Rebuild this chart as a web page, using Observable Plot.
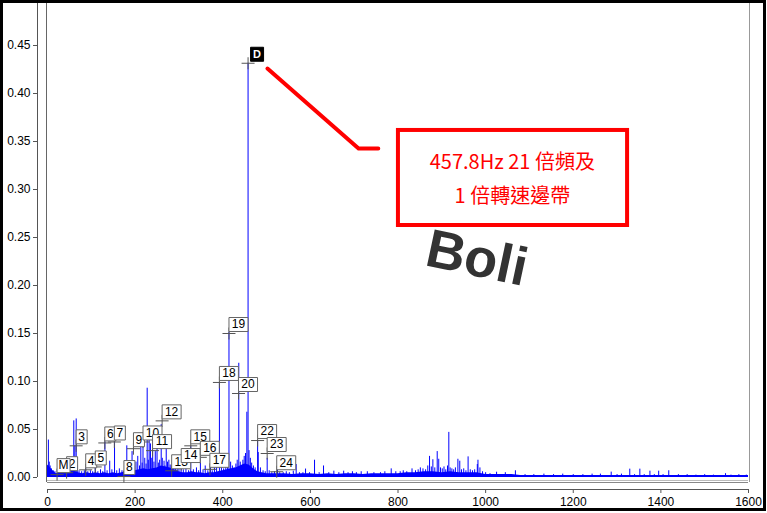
<!DOCTYPE html>
<html><head><meta charset="utf-8">
<script src="https://cdn.jsdelivr.net/npm/d3@7"></script>
<script src="https://cdn.jsdelivr.net/npm/@observablehq/plot@0.6"></script>
<style>body{margin:0;background:#fff} #chart svg{display:block}</style>
</head><body><div id="chart"></div>
<script>
// ---- data ----
const xTicks = [0, 200, 400, 600, 800, 1000, 1200, 1400, 1600];
const yTicks = [0, 0.05, 0.10, 0.15, 0.20, 0.25, 0.30, 0.35, 0.40, 0.45];

// noise floor [Hz, amplitude]
const noiseFloor = [
 [0,0.013],[5,0.011],[10,0.008],[15,0.006],[20,0.004],[30,0.005],[40,0.006],[50,0.005],[60,0.007],[70,0.005],
 [80,0.004],[90,0.005],[100,0.004],[110,0.005],[120,0.004],[130,0.005],[140,0.004],[150,0.005],[160,0.004],[170,0.005],
 [180,0.006],[190,0.005],[200,0.007],[210,0.008],[220,0.009],[230,0.008],[240,0.009],[250,0.010],[260,0.012],[270,0.011],
 [280,0.010],[290,0.008],[300,0.006],[310,0.005],[320,0.005],[330,0.006],[340,0.005],[350,0.005],[360,0.004],[370,0.005],
 [380,0.005],[390,0.006],[400,0.007],[410,0.008],[420,0.009],[430,0.010],[440,0.012],[450,0.014],[460,0.013],[470,0.009],
 [480,0.006],[490,0.005],[500,0.004],[520,0.004],[540,0.004],[560,0.003],[580,0.004],[600,0.004],[620,0.003],[640,0.004],
 [660,0.003],[680,0.004],[700,0.004],[720,0.003],[740,0.004],[760,0.004],[780,0.004],[800,0.004],[820,0.005],[840,0.005],
 [860,0.006],[880,0.006],[900,0.005],[920,0.006],[940,0.005],[960,0.005],[980,0.005],[1000,0.003],[1020,0.003],[1040,0.003],
 [1060,0.003],[1080,0.002],[1100,0.002],[1150,0.002],[1200,0.002],[1250,0.002],[1300,0.002],[1350,0.002],[1400,0.002],
 [1450,0.002],[1500,0.002],[1550,0.002],[1600,0.002]
];

// spectral lines [Hz, amplitude]
const peaks = [
 [2,0.039],[4,0.016],[6,0.012],[9,0.009],[13,0.007],[17,0.006],[21.8,0.004],[26,0.006],[31,0.008],[36,0.005],
 [40,0.007],[43.6,0.009],[47,0.006],[51,0.019],[55,0.008],[58,0.012],[60,0.059],[62.5,0.033],[65.5,0.061],[68,0.012],
 [72,0.007],[78,0.006],[84,0.007],[87.2,0.009],[92,0.006],[98,0.007],[103,0.006],[109,0.012],[115,0.006],[121,0.008],
 [126,0.006],[131,0.037],[136,0.007],[142,0.017],[147,0.008],[153,0.039],[158,0.007],[164,0.009],[170,0.007],[174.4,0.006],
 [181,0.033],[185,0.012],[189,0.015],[193,0.027],[197,0.012],[202,0.016],[206,0.022],[210,0.012],[213,0.032],[216,0.015],
 [218,0.036],[222,0.020],[225,0.014],[227.5,0.093],[230,0.018],[232,0.040],[235,0.035],[238,0.020],[240,0.028],[243,0.016],
 [246,0.027],[250,0.033],[253,0.015],[256,0.018],[259.5,0.055],[262,0.020],[266,0.017],[268,0.012],[271,0.041],[274,0.016],
 [277,0.018],[280,0.013],[284,0.012],[288,0.011],[292,0.010],[296,0.014],[300,0.009],[305,0.013],[310,0.008],[316,0.010],
 [322,0.007],[327,0.032],[333,0.008],[340,0.010],[345,0.007],[349,0.030],[355,0.008],[360,0.012],[366,0.007],[372,0.021],
 [376,0.007],[381,0.010],[386,0.013],[392.4,0.099],[397,0.012],[402,0.009],[407,0.014],[411,0.020],[414.2,0.151],[418,0.016],
 [422,0.012],[426,0.010],[430,0.014],[433,0.018],[436.6,0.119],[440,0.016],[443,0.012],[446,0.018],[449,0.022],[452,0.025],
 [455,0.068],[457.8,0.4315],[460,0.028],[463,0.020],[466,0.015],[470,0.012],[474,0.010],[479.6,0.0385],[481,0.026],[486,0.010],
 [492,0.007],[497,0.006],[501.4,0.020],[506,0.007],[512,0.005],[518,0.006],[525,0.012],[530,0.005],[538,0.005],[545,0.006],
 [552,0.005],[561,0.0066],[567.6,0.0135],[575,0.005],[583,0.005],[589,0.0088],[598,0.005],[609.5,0.018],[620,0.005],[630,0.012],
 [642,0.005],[653.6,0.0066],[665,0.005],[676,0.0066],[686,0.005],[696,0.006],[705,0.005],[716,0.006],[730,0.006],[745,0.005],
 [760,0.005],[770,0.006],[784.5,0.009],[795,0.006],[805,0.006],[812,0.007],[820,0.006],[832,0.009],[840,0.007],[846,0.008],
 [851,0.010],[857,0.009],[863,0.008],[868,0.012],[872,0.022],[876,0.011],[879.6,0.0185],[884,0.010],[889.5,0.027],[893,0.019],
 [897,0.010],[901,0.009],[905,0.011],[909,0.008],[913,0.012],[916,0.047],[919,0.010],[923,0.009],[927,0.008],[931,0.010],
 [936.7,0.019],[941,0.017],[945,0.008],[950,0.009],[955,0.007],[960,0.0215],[965,0.008],[970,0.007],[975,0.008],[981,0.0135],
 [982.5,0.018],[987,0.010],[993,0.006],[1000,0.005],[1010,0.004],[1025,0.0055],[1045,0.005],[1068,0.007],[1090,0.003],[1110,0.003],
 [1133,0.0035],[1155,0.003],[1176,0.0035],[1200,0.003],[1222,0.003],[1243,0.0035],[1262,0.0035],[1286.6,0.0056],[1300,0.003],[1310,0.0035],
 [1329,0.0087],[1340,0.003],[1352,0.0087],[1362,0.003],[1375,0.0066],[1385,0.003],[1395,0.0066],[1405,0.003],[1418,0.007],[1440,0.003],
 [1460,0.003],[1480,0.0025],[1500,0.003],[1520,0.0025],[1547.6,0.004],[1560,0.0025],[1578,0.003],[1595,0.0025]
];

// harmonic cursors of 21.8 Hz (1x = "M")
const harmLabel = ["2","3","4","5","6","7","8","9","10","11","12","13","14","15","16","17","18","19","20","22","23","24","M"];
const harmFreq  = [43.6,65.4,87.2,109.0,130.8,152.6,174.4,196.2,218.0,239.8,261.6,283.4,305.2,327.0,348.8,370.6,392.4,414.2,436.0,479.6,501.4,523.2,21.8];
const harmAmp   = [0.005,0.033,0.008,0.011,0.036,0.037,0.001,0.030,0.037,0.028,0.059,0.007,0.0135,0.033,0.021,0.0085,0.099,0.150,0.0875,0.0385,0.025,0.006,0.003];
const mainPeak = {label: "D", freq: 457.8, amp: 0.4315};

// callout
const calloutLine = [[502,0.426],[710,0.3427],[755,0.3427]];
const calloutBox = {x1: 801, x2: 1324, y1: 0.2625, y2: 0.3615};
const calloutText = {x: 1061, y: 0.3145, text: "457.8Hz 21 倍頻及\n1 倍轉速邊帶"};
const watermark = {x: 980, y: 0.228, text: "Boli"};

// ---- chart ----
const yMin = -0.0052083, yMax = 0.496875;
const harm = harmLabel.map((l, i) => ({label: l, freq: harmFreq[i], amp: harmAmp[i]}));

const crossSym = {draw(ctx) { ctx.moveTo(-6.5, 0); ctx.lineTo(6.5, 0); ctx.moveTo(0, -6); ctx.lineTo(0, 6); }};
const boxSym = (w, ox = 0) => ({draw(ctx) { ctx.rect(ox, -16, w, 14); }});
const boxW = l => l.length === 2 ? 19 : (l === "M" ? 13 : 11);

const labelMarks = [];
for (const h of harm) {
  const w = boxW(h.label);
  labelMarks.push(Plot.dot([h], {x: "freq", y: "amp", symbol: boxSym(w), fill: "white", stroke: "#666", strokeWidth: 1}));
  labelMarks.push(Plot.text([h], {x: "freq", y: "amp", text: "label", dx: w / 2, dy: -9, fill: "#000", fontSize: 12}));
}

const chart = Plot.plot({
  width: 767, height: 513,
  marginLeft: 47, marginRight: 19, marginTop: 0, marginBottom: 31,
  style: {fontFamily: "'Liberation Sans', Arial, sans-serif", fontSize: "12px", color: "#000", background: "#fff"},
  x: {domain: [0, 1600]},
  y: {domain: [yMin, yMax]},
  marks: [
    Plot.areaY(noiseFloor, {x: d => d[0], y: d => d[1], fill: "#0000ff"}),
    Plot.ruleX(peaks, {x: d => d[0], y1: 0, y2: d => d[1], stroke: "#0000ff", strokeWidth: 1}),
    Plot.ruleX([0], {dx: -1, stroke: "#666"}),
    Plot.ruleX([1600], {dx: 1, stroke: "#999"}),
    Plot.ruleX([0], {dx: -10, y1: 0, y2: yMax, stroke: "#555"}),
    Plot.ruleY([yMin], {stroke: "#888"}),
    Plot.ruleY([yMin], {dy: -2, stroke: "#bbb"}),
    Plot.ruleY([yMin], {dy: 7, x1: 0, x2: 1600, stroke: "#555"}),
    Plot.axisY(yTicks, {anchor: "left", dx: -10, tickSize: 4, tickPadding: 3, tickFormat: d3.format(".2f"), stroke: "#555", fill: "#000"}),
    Plot.axisX(xTicks, {anchor: "bottom", dy: 7, tickSize: 4, tickPadding: 4, tickFormat: d3.format("d"), stroke: "#555", fill: "#000"}),
    Plot.dot(harm, {x: "freq", y: "amp", symbol: crossSym, fill: "none", stroke: "#555", strokeWidth: 1}),
    ...labelMarks,
    Plot.dot([mainPeak], {x: "freq", y: "amp", symbol: crossSym, fill: "none", stroke: "#555", strokeWidth: 1}),
    Plot.dot([mainPeak], {x: "freq", y: "amp", symbol: boxSym(13, 2.5), fill: "#000", stroke: "#000", strokeWidth: 1}),
    Plot.text([mainPeak], {x: "freq", y: "amp", text: "label", dx: 9, dy: -9, fill: "#fff", fontSize: 11, fontWeight: "bold"}),
    Plot.line(calloutLine, {x: d => d[0], y: d => d[1], stroke: "#ff0000", strokeWidth: 4}),
    Plot.rect([calloutBox], {x1: "x1", x2: "x2", y1: "y1", y2: "y2", fill: "white", stroke: "#ff0000", strokeWidth: 4}),
    Plot.text([calloutText], {x: "x", y: "y", text: "text", fill: "#ff0000", fontSize: 20, lineHeight: 1.7, fontFamily: "'Noto Sans CJK TC', sans-serif"}),
    Plot.text([watermark], {x: "x", y: "y", text: "text", rotate: 12, fontSize: 54, fontWeight: "bold", fill: "#333", fontFamily: "'Liberation Sans', Arial, sans-serif"})
  ]
});
d3.select(chart).append("rect").attr("x", 1.5).attr("y", 1.5).attr("width", 763).attr("height", 508)
  .attr("fill", "none").attr("stroke", "#000").attr("stroke-width", 3);
document.getElementById("chart").append(chart);
</script></body></html>
